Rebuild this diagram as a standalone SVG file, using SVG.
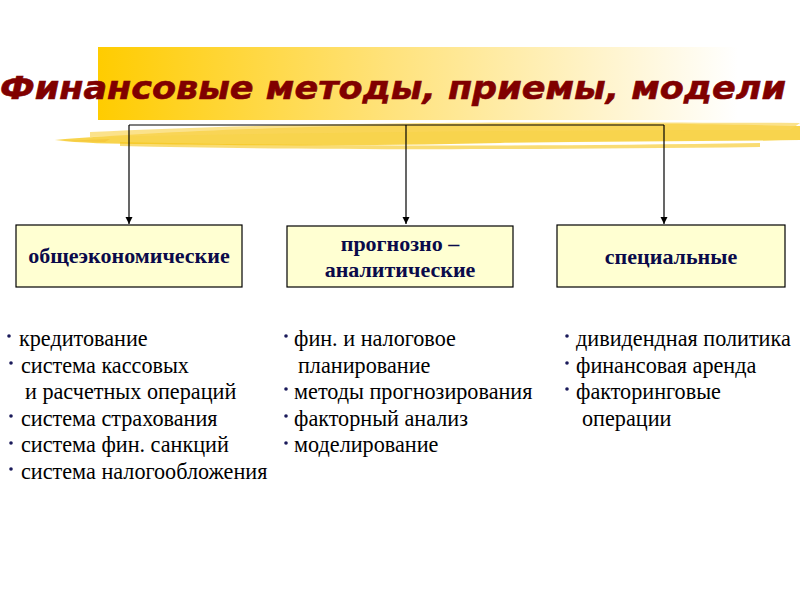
<svg xmlns="http://www.w3.org/2000/svg" width="800" height="600" viewBox="0 0 800 600">
<style>
.box{fill:#FFFFD2;stroke:#000;stroke-width:1.2}
.bt{font-family:"Liberation Serif",serif;font-weight:bold;font-size:22px;fill:#0A0A4A;text-anchor:middle}
.li{font-family:"Liberation Serif",serif;font-size:22.2px;fill:#000}
.bu{fill:#1A1A5A}
.con{stroke:#000;stroke-width:1.2;fill:none}
</style>
<defs>
<linearGradient id="g" x1="0" y1="0" x2="1" y2="0">
<stop offset="0" stop-color="#FFCC00"/>
<stop offset="0.45" stop-color="#FFE27A"/>
<stop offset="1" stop-color="#FFFFFF"/>
</linearGradient>
<marker id="ar" markerWidth="8" markerHeight="8" refX="7" refY="3.5" orient="auto" markerUnits="userSpaceOnUse">
<path d="M0,0 L7,3.5 L0,7 Z" fill="#000"/>
</marker>
</defs>
<rect width="800" height="600" fill="#fff"/>
<g id="banner">
<rect x="98" y="47" width="640" height="73" fill="url(#g)"/>
<path d="M55,140 C150,132 300,126 450,124 C600,122 720,124 800,126 L800,140 C700,142 600,141 500,143 C380,146 250,146 150,144 C110,144 80,143 55,140 Z" fill="#F7CC2E" opacity="0.85"/>
<path d="M90,132 C250,124 450,121 800,123 L790,130 C500,130 300,133 90,137 Z" fill="#F9D65A" opacity="0.7"/>
<path d="M120,142 C300,146 500,147 760,143 L760,147 C500,150 300,150 120,146 Z" fill="#F5C518" opacity="0.6"/>
<path d="M60,141 L110,139 L105,142 Z" fill="#F3C233" opacity="0.6"/>
</g>
<text x="393" y="99" font-family="DejaVu Sans, sans-serif" font-weight="bold" font-style="italic" font-size="32" fill="#800000" stroke="#800000" stroke-width="0.6" text-anchor="middle" textLength="786" lengthAdjust="spacingAndGlyphs">Финансовые методы, приемы, модели</text>
<g id="connectors">
<path class="con" d="M129,125 L664,125"/>
<path class="con" d="M129,125 L129,224" marker-end="url(#ar)"/>
<path class="con" d="M406,125 L406,224" marker-end="url(#ar)"/>
<path class="con" d="M664,125 L664,224" marker-end="url(#ar)"/>
</g>
<g id="n1">
<rect class="box" x="16" y="225" width="226" height="62"/>
<text class="bt" x="129" y="263">общеэкономические</text>
</g>
<g id="n2">
<rect class="box" x="287" y="226" width="226" height="61"/>
<text class="bt" x="400" y="251">прогнозно –</text>
<text class="bt" x="400" y="277">аналитические</text>
</g>
<g id="n3">
<rect class="box" x="557" y="225" width="228" height="62"/>
<text class="bt" x="671" y="264">специальные</text>
</g>
<g id="list1">
<circle class="bu" cx="9" cy="336" r="1.8"/><text class="li" x="19" y="346">кредитование</text>
<circle class="bu" cx="11" cy="363" r="1.8"/><text class="li" x="21" y="373">система кассовых</text>
<text class="li" x="25" y="399">и расчетных операций</text>
<circle class="bu" cx="11" cy="416" r="1.8"/><text class="li" x="21" y="426">система страхования</text>
<circle class="bu" cx="11" cy="443" r="1.8"/><text class="li" x="21" y="452">система фин. санкций</text>
<circle class="bu" cx="11" cy="469" r="1.8"/><text class="li" x="21" y="479">система налогообложения</text>
</g>
<g id="list2">
<circle class="bu" cx="286" cy="336" r="1.8"/><text class="li" x="294" y="346">фин. и налоговое</text>
<text class="li" x="298" y="373">планирование</text>
<circle class="bu" cx="286" cy="389" r="1.8"/><text class="li" x="294" y="399">методы прогнозирования</text>
<circle class="bu" cx="286" cy="416" r="1.8"/><text class="li" x="294" y="426">факторный анализ</text>
<circle class="bu" cx="286" cy="443" r="1.8"/><text class="li" x="294" y="452">моделирование</text>
</g>
<g id="list3">
<circle class="bu" cx="567" cy="336" r="1.8"/><text class="li" x="576" y="346">дивидендная политика</text>
<circle class="bu" cx="567" cy="363" r="1.8"/><text class="li" x="576" y="373">финансовая аренда</text>
<circle class="bu" cx="567" cy="389" r="1.8"/><text class="li" x="576" y="399">факторинговые</text>
<text class="li" x="582" y="426">операции</text>
</g>
</svg>
